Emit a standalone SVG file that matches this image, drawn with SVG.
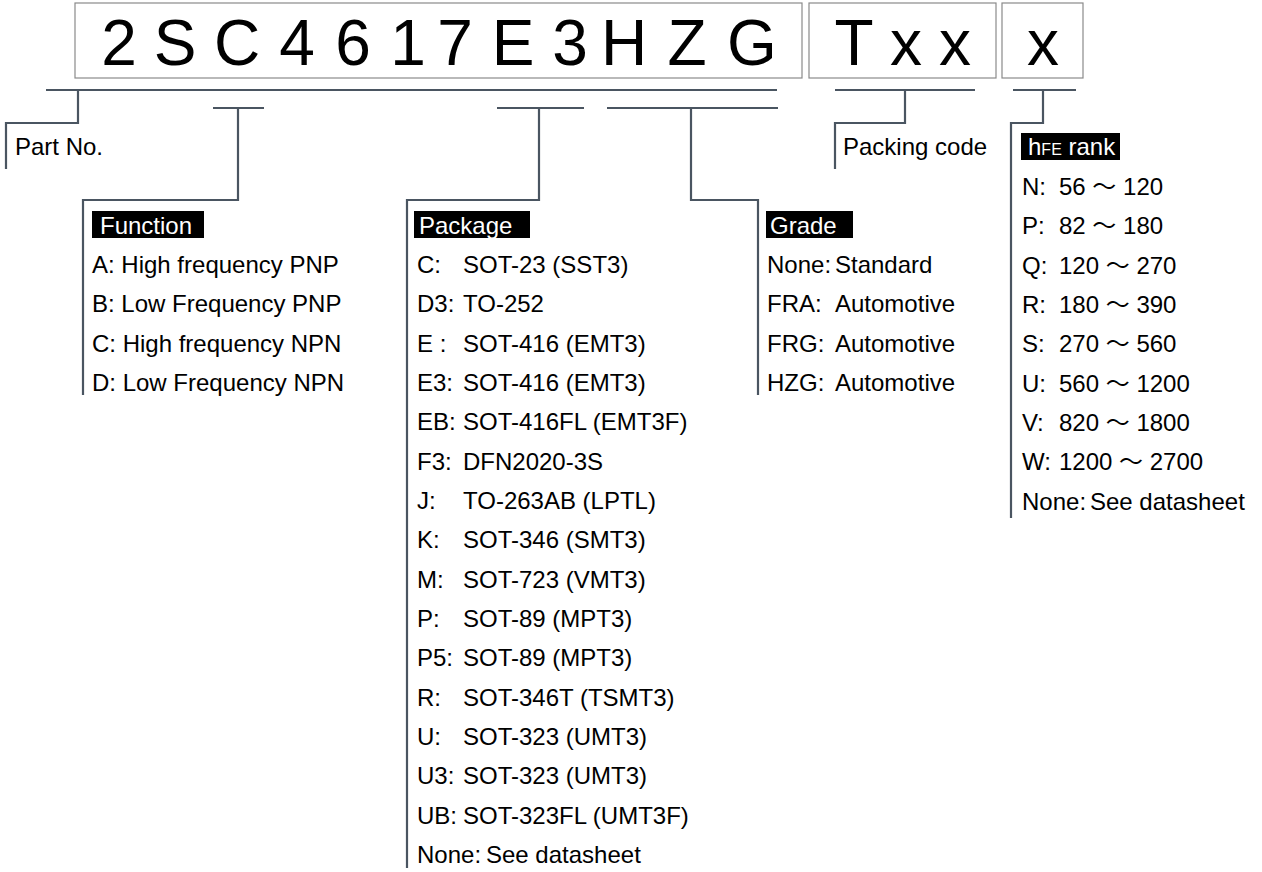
<svg xmlns="http://www.w3.org/2000/svg" width="1262" height="872" viewBox="0 0 1262 872">
<style>
.bg{fill:#ffffff}
.box{fill:#ffffff;stroke:#8a8a8a;stroke-width:1.2}
.big{font-family:"Liberation Sans",Arial,sans-serif;font-size:64px;fill:#000}
.t{font-family:"Liberation Sans","Noto Sans CJK JP",Arial,sans-serif;font-size:24px;fill:#000}
.lbl{fill:#000}
.lt{font-family:"Liberation Sans",Arial,sans-serif;font-size:24px;fill:#fff}
.sub{font-size:16px}
.ln{fill:none;stroke:#4a5561;stroke-width:2.2}
</style>
<rect class="bg" x="0" y="0" width="1262" height="872"/>

<g id="code-box">
<rect class="box" x="75" y="3" width="727" height="75"/>
<text class="big" x="119 175 237 297 353 408 455 513 570 624 687 752" y="65" text-anchor="middle">2SC4617E3HZG</text>
</g>
<g id="packing-box">
<rect class="box" x="809" y="3" width="187" height="75"/>
<text class="big" x="854 906 955" y="65" text-anchor="middle">Txx</text>
</g>
<g id="rank-box">
<rect class="box" x="1002" y="3" width="81" height="75"/>
<text class="big" x="1043" y="65" text-anchor="middle">x</text>
</g>

<g id="connectors">
<path class="ln" d="M46 90H777"/>
<path class="ln" d="M78 90V123H6V169"/>
<path class="ln" d="M213 108H264M238 108V200H83V395"/>
<path class="ln" d="M497 108H584M539 108V200H407V868"/>
<path class="ln" d="M607 108H778M691 108V200H758V395"/>
<path class="ln" d="M835 90H975M905 90V123H835V169"/>
<path class="ln" d="M1013 90H1076M1043 90V123H1011V518"/>
</g>

<g id="part-no">
<text class="t" x="15" y="155">Part No.</text>
</g>

<g id="function">
<rect class="lbl" x="92" y="211" width="112" height="27"/>
<text class="lt" x="100" y="234">Function</text>
<text class="t" x="92" y="273">A: High frequency PNP</text>
<text class="t" x="92" y="312.3">B: Low Frequency PNP</text>
<text class="t" x="92" y="351.7">C: High frequency NPN</text>
<text class="t" x="92" y="391">D: Low Frequency NPN</text>
</g>

<g id="package">
<rect class="lbl" x="414" y="211" width="116" height="27"/>
<text class="lt" x="419" y="234">Package</text>
<text class="t" x="417" y="273">C:<tspan x="463">SOT-23 (SST3)</tspan></text>
<text class="t" x="417" y="312.3">D3:<tspan x="463">TO-252</tspan></text>
<text class="t" x="417" y="351.7">E :<tspan x="463">SOT-416 (EMT3)</tspan></text>
<text class="t" x="417" y="391">E3:<tspan x="463">SOT-416 (EMT3)</tspan></text>
<text class="t" x="417" y="430.3">EB:<tspan x="463">SOT-416FL (EMT3F)</tspan></text>
<text class="t" x="417" y="469.7">F3:<tspan x="463">DFN2020-3S</tspan></text>
<text class="t" x="417" y="509">J:<tspan x="463">TO-263AB (LPTL)</tspan></text>
<text class="t" x="417" y="548.3">K:<tspan x="463">SOT-346 (SMT3)</tspan></text>
<text class="t" x="417" y="587.7">M:<tspan x="463">SOT-723 (VMT3)</tspan></text>
<text class="t" x="417" y="627">P:<tspan x="463">SOT-89 (MPT3)</tspan></text>
<text class="t" x="417" y="666.3">P5:<tspan x="463">SOT-89 (MPT3)</tspan></text>
<text class="t" x="417" y="705.7">R:<tspan x="463">SOT-346T (TSMT3)</tspan></text>
<text class="t" x="417" y="745">U:<tspan x="463">SOT-323 (UMT3)</tspan></text>
<text class="t" x="417" y="784.3">U3:<tspan x="463">SOT-323 (UMT3)</tspan></text>
<text class="t" x="417" y="823.7">UB:<tspan x="463">SOT-323FL (UMT3F)</tspan></text>
<text class="t" x="417" y="863">None:<tspan x="486">See datasheet</tspan></text>
</g>

<g id="grade">
<rect class="lbl" x="766" y="211" width="87" height="27"/>
<text class="lt" x="770" y="234">Grade</text>
<text class="t" x="767" y="273">None:<tspan x="835">Standard</tspan></text>
<text class="t" x="767" y="312.3">FRA:<tspan x="835">Automotive</tspan></text>
<text class="t" x="767" y="351.7">FRG:<tspan x="835">Automotive</tspan></text>
<text class="t" x="767" y="391">HZG:<tspan x="835">Automotive</tspan></text>
</g>

<g id="packing-code">
<text class="t" x="843" y="155">Packing code</text>
</g>

<g id="hfe-rank">
<rect class="lbl" x="1021" y="133" width="99" height="27"/>
<text class="lt" x="1028" y="155">h<tspan class="sub">FE</tspan> rank</text>
<text class="t" x="1022" y="195">N:<tspan x="1059">56 ～ 120</tspan></text>
<text class="t" x="1022" y="234.3">P:<tspan x="1059">82 ～ 180</tspan></text>
<text class="t" x="1022" y="273.7">Q:<tspan x="1059">120 ～ 270</tspan></text>
<text class="t" x="1022" y="313">R:<tspan x="1059">180 ～ 390</tspan></text>
<text class="t" x="1022" y="352.3">S:<tspan x="1059">270 ～ 560</tspan></text>
<text class="t" x="1022" y="391.7">U:<tspan x="1059">560 ～ 1200</tspan></text>
<text class="t" x="1022" y="431">V:<tspan x="1059">820 ～ 1800</tspan></text>
<text class="t" x="1022" y="470.3">W:<tspan x="1059">1200 ～ 2700</tspan></text>
<text class="t" x="1022" y="509.7">None:<tspan x="1090">See datasheet</tspan></text>
</g>
</svg>
